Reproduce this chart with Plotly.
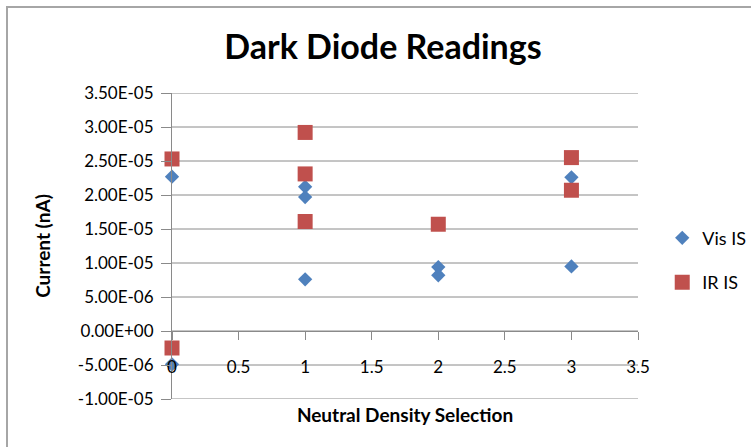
import plotly.graph_objects as go

# Neutral density filter selection for each reading
vis_x = [0, 0, 1, 1, 1, 2, 2, 3, 3]
vis_y = [2.27e-5, -4.9e-6, 2.12e-5, 1.97e-5, 7.6e-6, 9.4e-6, 8.2e-6, 2.26e-5, 9.5e-6]

ir_x = [0, 0, 1, 1, 1, 2, 3, 3]
ir_y = [2.53e-5, -2.5e-6, 2.92e-5, 2.31e-5, 1.61e-5, 1.57e-5, 2.55e-5, 2.07e-5]

y_ticks = [-1e-5, -5e-6, 0, 5e-6, 1e-5, 1.5e-5, 2e-5, 2.5e-5, 3e-5, 3.5e-5]
y_ticktext = [f"{v:.2E}" for v in y_ticks]

FONT = "Lato"
GRID = "#8a8a8a"

fig = go.Figure()
fig.add_trace(go.Scatter(
    x=vis_x, y=vis_y, mode="markers", name="Vis IS", legendgroup="vis",
    marker=dict(symbol="diamond", size=11, color="#4F81BD"),
    cliponaxis=False,
))
fig.add_trace(go.Scatter(
    x=ir_x, y=ir_y, mode="markers", name="IR IS", legendgroup="ir",
    marker=dict(symbol="square", size=15, color="#C0504D"),
    cliponaxis=False,
))

# Horizontal major gridlines at every y tick
for v in y_ticks:
    fig.add_hline(y=v, line=dict(color=GRID, width=1), layer="below")

fig.update_layout(
    width=751, height=447,
    margin=dict(l=172, r=113, t=93, b=48, autoexpand=False),
    paper_bgcolor="white", plot_bgcolor="white",
    font=dict(family=FONT, color="black", size=17),
    title=dict(text="<b>Dark Diode Readings</b>", x=(383 / 751), xanchor="center",
               y=1 - 47 / 447, yanchor="middle",
               font=dict(family=FONT, size=34, color="black")),
    showlegend=True,
    legend=dict(x=1.052, y=0.454, xanchor="left", yanchor="middle",
                font=dict(family=FONT, size=18), itemwidth=30,
                tracegroupgap=18, bgcolor="rgba(0,0,0,0)"),
    xaxis=dict(
        range=[0, 3.5], dtick=0.5, tick0=0, showgrid=False, zeroline=False,
        showline=True, linecolor=GRID, linewidth=1,
        ticks="outside", ticklen=8, tickcolor=GRID,
        anchor="free", position=1e-5 / 4.5e-5,
        ticklabelstandoff=13,
        tickfont=dict(family=FONT, size=17),
        title=dict(text="<b>Neutral Density Selection</b>", standoff=32,
                   font=dict(family=FONT, size=19)),
    ),
    yaxis=dict(
        range=[-1e-5, 3.5e-5], tickvals=y_ticks, ticktext=y_ticktext,
        showgrid=False, zeroline=False,
        showline=True, linecolor=GRID, linewidth=1,
        ticks="outside", ticklen=10, tickcolor=GRID,
        ticklabelstandoff=4,
        tickfont=dict(family=FONT, size=17),
        title=dict(text="<b>Current (nA)</b>", standoff=22,
                   font=dict(family=FONT, size=19)),
    ),
)

# Chart area frame
fig.add_shape(type="rect", xref="paper", yref="paper",
              x0=(7 - 172) / 466, x1=2.0, y0=-1.0, y1=(399 - 7) / 306,
              line=dict(color="#a6a6a6", width=2), fillcolor="rgba(0,0,0,0)",
              layer="below")

fig.write_html("out.html")
